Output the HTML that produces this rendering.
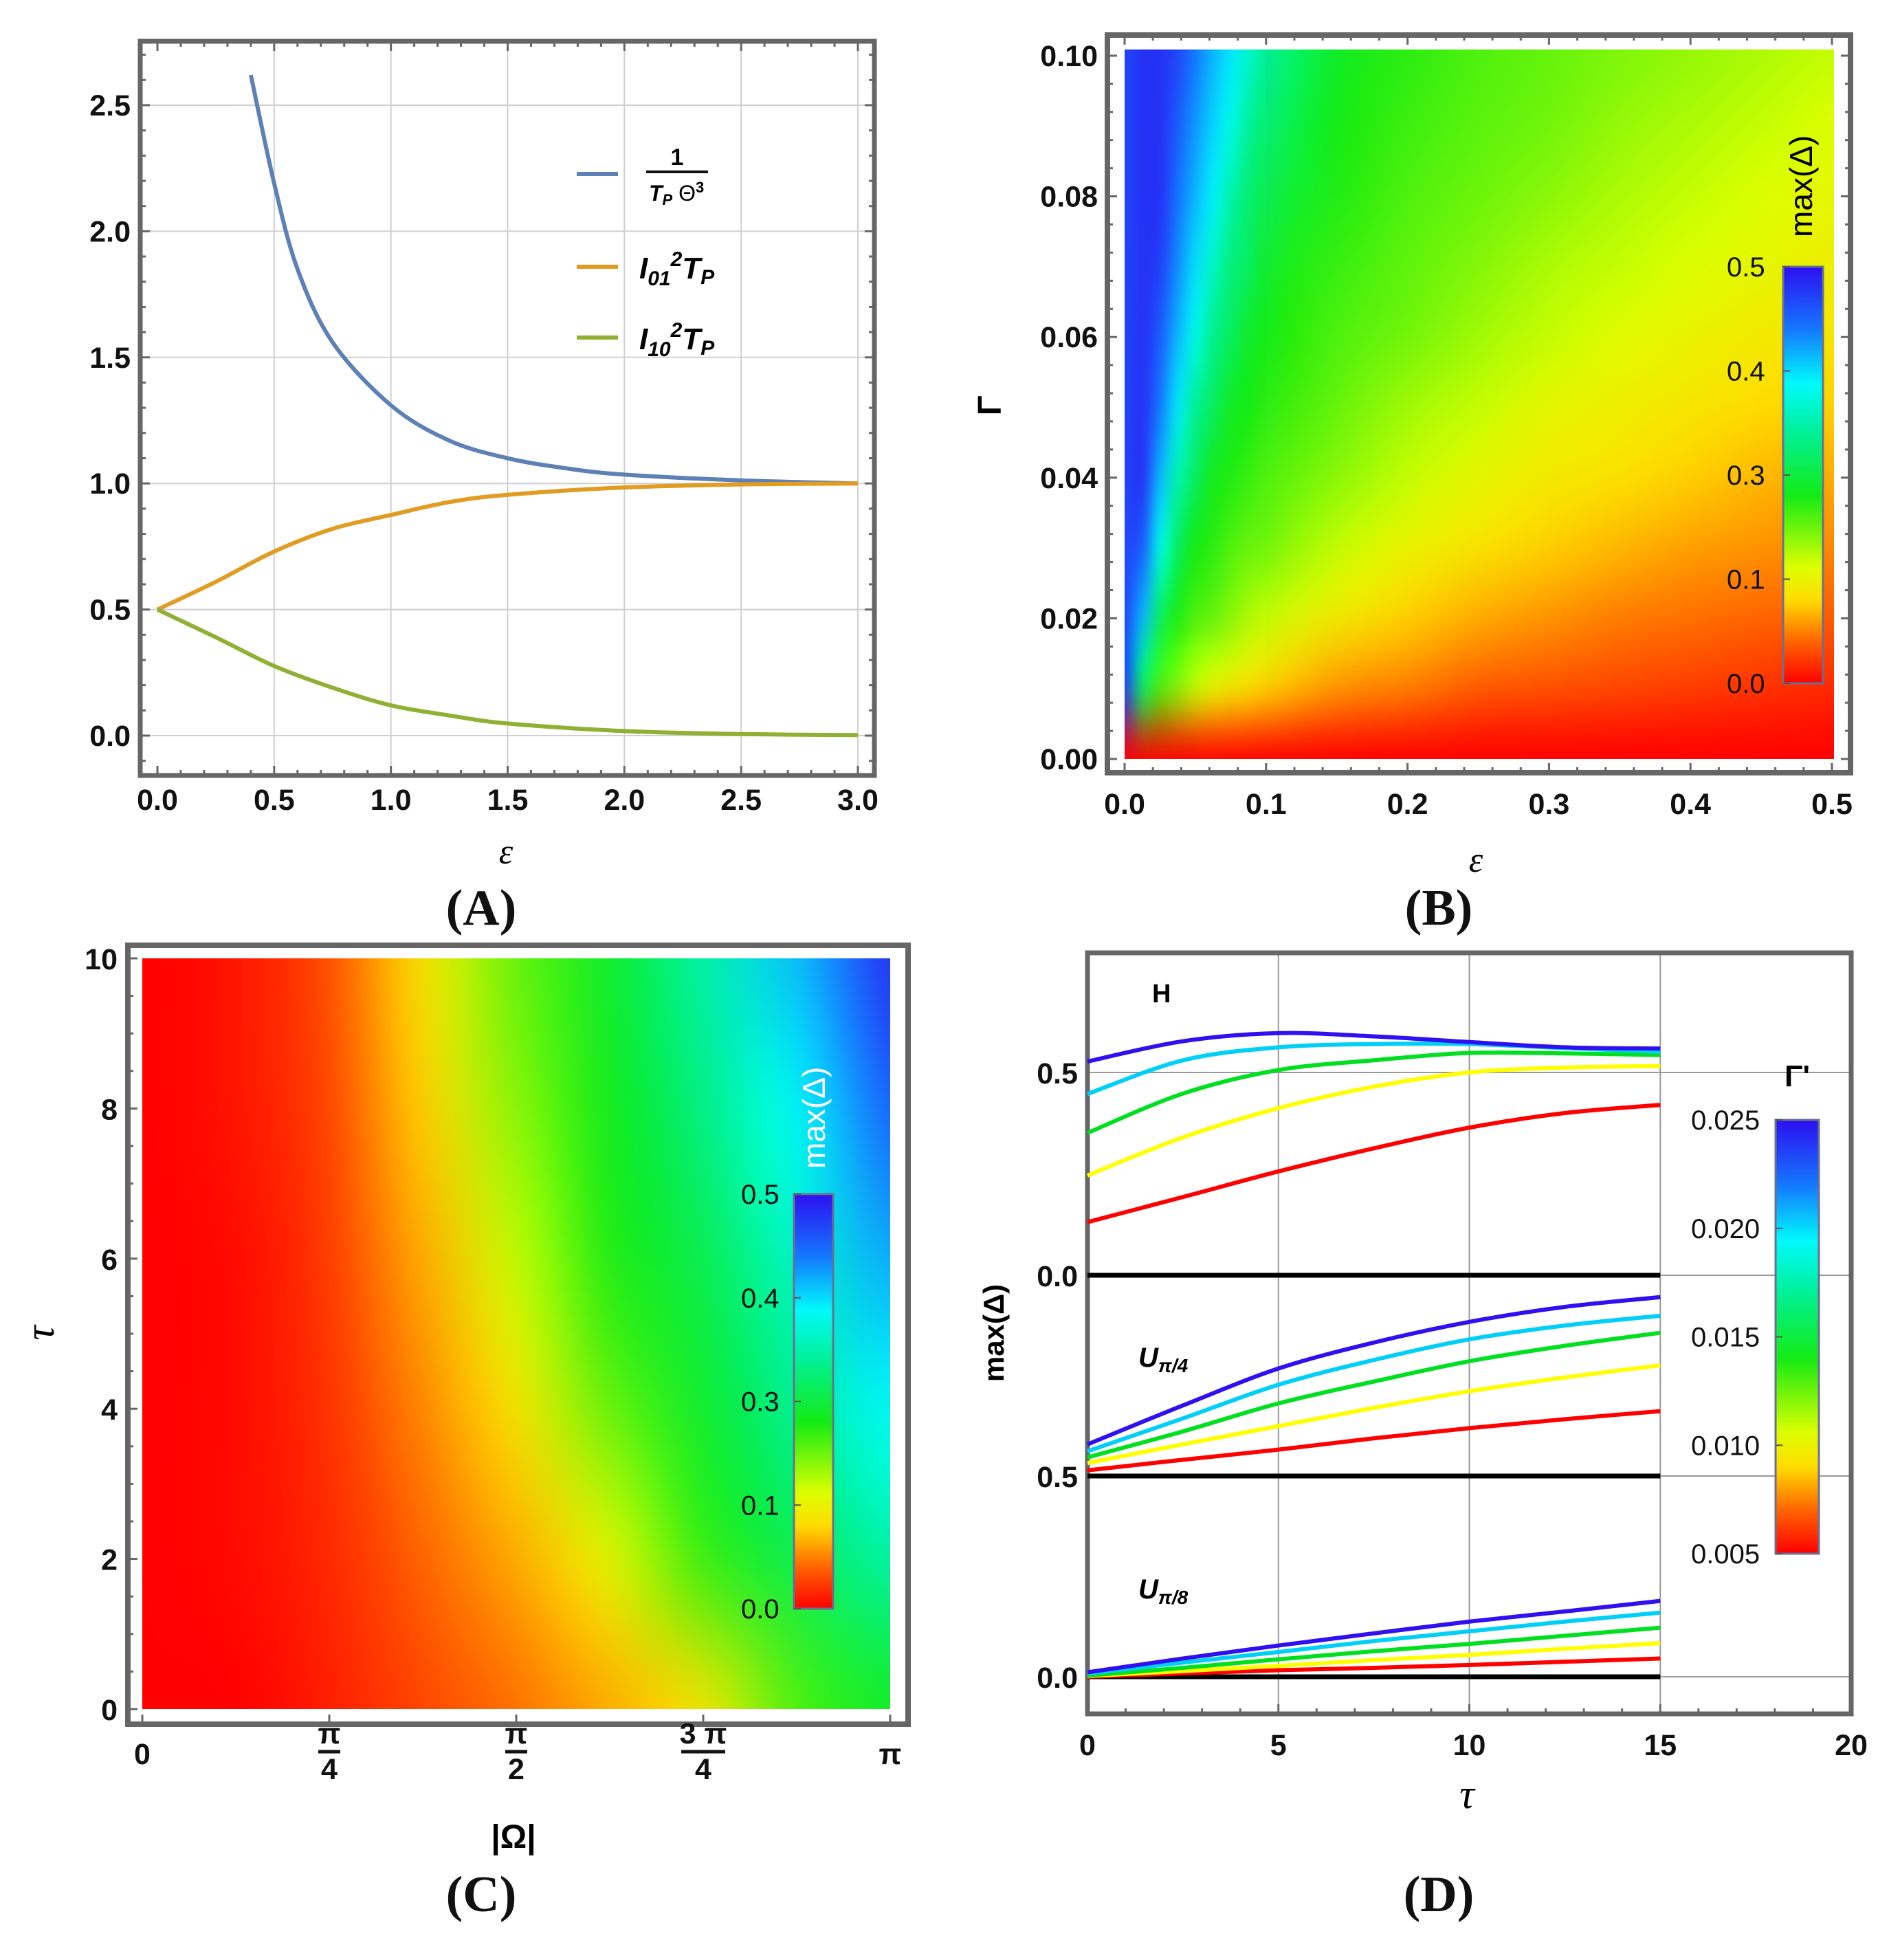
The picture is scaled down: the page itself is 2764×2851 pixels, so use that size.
<!DOCTYPE html>
<html><head><meta charset="utf-8">
<style>
html,body{margin:0;padding:0;background:#fff;}
body{width:2764px;height:2851px;position:relative;overflow:hidden;font-family:"Liberation Sans",sans-serif;}
svg{position:absolute;left:0;top:0;}
canvas{position:absolute;}
.tk{font:bold 43px "Liberation Sans",sans-serif;fill:#111;}
.cb{font:40px "Liberation Sans",sans-serif;fill:#111;}
.pl{font:bold 74px "Liberation Serif",serif;fill:#111;}
</style></head>
<body>
<canvas id="hmB" style="left:1636px;top:72px;" width="1032" height="1032"></canvas>
<canvas id="hmB2" style="left:1636px;top:72px;" width="206" height="1032"></canvas>
<canvas id="hmC" style="left:207px;top:1394px;" width="1088" height="1092"></canvas>
<svg id="svg" width="2764" height="2851" viewBox="0 0 2764 2851" xmlns="http://www.w3.org/2000/svg">
<defs>
<linearGradient id="cmap" x1="0" y1="1" x2="0" y2="0">
<stop offset="0" stop-color="rgb(255,0,0)"/><stop offset="0.1" stop-color="rgb(255,100,0)"/>
<stop offset="0.2" stop-color="rgb(255,220,0)"/><stop offset="0.28" stop-color="rgb(220,255,0)"/>
<stop offset="0.45" stop-color="rgb(20,235,20)"/><stop offset="0.6" stop-color="rgb(0,240,150)"/>
<stop offset="0.72" stop-color="rgb(0,250,250)"/><stop offset="0.85" stop-color="rgb(20,120,255)"/>
<stop offset="1" stop-color="rgb(45,15,240)"/>
</linearGradient>
</defs>
<g id="gA"></g>
<g id="gB"></g>
<g id="gC"></g>
<g id="gD"></g>
</svg>
<script>
// ---------- Panel A data ----------
const aBlueX=[0.4,0.5,0.6,0.75,1,1.25,1.5,1.75,2,2.5,3];
const aBlueY=[2.62,2.19,1.85,1.56,1.31,1.17,1.1,1.06,1.035,1.012,1.0];
const aOrX=[0,0.25,0.5,0.75,1,1.25,1.5,2,2.5,3];
const aOrY=[0.5,0.61,0.73,0.82,0.875,0.926,0.955,0.984,0.996,1.0];
const aGrX=[0,0.25,0.5,0.75,1,1.25,1.5,2,2.5,3];
const aGrY=[0.5,0.39,0.276,0.19,0.12,0.08,0.048,0.018,0.006,0.002];
const aXTicks=["0.0","0.5","1.0","1.5","2.0","2.5","3.0"];
const aYTicks=["0.0","0.5","1.0","1.5","2.0","2.5"];
// ---------- Panel B data (colour fraction of max(Δ)/0.5) ----------
const bEps=[0,0.05,0.1,0.15,0.2,0.25,0.3,0.35,0.4,0.45,0.5];
const bGam=[0,0.01,0.02,0.03,0.04,0.05,0.06,0.07,0.08,0.09,0.1];
const bRows=[ // row per Γ, column per ε
[0,0,0,0,0,0,0,0,0,0,0],
[.92,.3,.19,.14,.12,.09,.08,.07,.06,.05,.04],
[.92,.40,.3,.23,.19,.16,.14,.12,.11,.10,.09],
[.92,.45,.37,.3,.25,.215,.19,.17,.15,.14,.13],
[.92,.52,.40,.35,.3,.26,.23,.21,.19,.17,.16],
[.92,.6,.43,.38,.33,.3,.26,.24,.22,.2,.19],
[.92,.70,.45,.40,.37,.33,.3,.27,.25,.23,.22],
[.92,.75,.48,.42,.385,.355,.32,.3,.28,.26,.24],
[.92,.79,.52,.44,.40,.375,.35,.32,.3,.28,.26],
[.92,.82,.56,.45,.415,.39,.37,.34,.32,.3,.28],
[.92,.85,.6,.47,.43,.40,.38,.36,.34,.32,.3]];
// finer detail for ε in [0,0.1]
const bEpsFine=[0,0.0125,0.025,0.0375,0.05,0.0625,0.075,0.0875,0.1];
const bRowsFine=[
[0,0,0,0,0,0,0,0,0],
[.92,.54,.40,.35,.30,.26,.23,.21,.19],
[.92,.79,.54,.44,.40,.38,.35,.32,.30],
[.92,.89,.70,.54,.45,.43,.40,.38,.37],
[.92,.95,.79,.63,.54,.46,.44,.42,.40],
[.92,.95,.85,.74,.6,.54,.47,.45,.43],
[.92,.95,.89,.79,.70,.59,.54,.48,.45],
[.92,.95,.93,.83,.75,.66,.57,.54,.48],
[.92,.95,.95,.86,.79,.73,.63,.56,.52],
[.92,.95,.95,.89,.82,.76,.70,.61,.56],
[.92,.95,.95,.92,.85,.79,.74,.67,.6]];
const bXTicks=["0.0","0.1","0.2","0.3","0.4","0.5"];
const bYTicks=["0.00","0.02","0.04","0.06","0.08","0.10"];
const cbTicks=["0.0","0.1","0.3","0.4","0.5"];
// ---------- Panel C data ----------
const cOmegaFrac=[0,0.125,0.25,0.375,0.5,0.625,0.75,0.875,1];
const cTau=[0,2,4,6,8,10];
const cRows=[
[0,0,.03,.07,.11,.16,.22,.40,.47],
[0,.01,.04,.10,.16,.26,.42,.52,.62],
[0,.01,.05,.13,.22,.38,.48,.6,.72],
[0,.01,.06,.16,.30,.44,.52,.66,.80],
[0,.02,.07,.19,.35,.46,.58,.72,.88],
[0,.02,.08,.22,.38,.48,.62,.78,.95]];
const cYTicks=["0","2","4","6","8","10"];
// ---------- Panel D data ----------
const dTau=[0,2.5,5,7.5,10,12.5,15];
const dHBlue=[.527,.577,.597,.589,.575,.562,.559];
const dHCyan=[.447,.53,.562,.57,.57,.56,.551];
const dHGreen=[.351,.448,.506,.53,.548,.547,.543];
const dHYellow=[.246,.34,.412,.465,.5,.512,.516];
const dHRed=[.131,.193,.256,.313,.364,.400,.42];
const dU4Blue=[.078,.174,.265,.329,.38,.417,.441];
const dU4Cyan=[.061,.142,.225,.286,.337,.371,.395];
const dU4Green=[.046,.11,.179,.233,.283,.321,.353];
const dU4Yellow=[.032,.078,.123,.168,.209,.243,.273];
const dU4Red=[.014,.04,.065,.093,.118,.14,.16];
const dU8Blue=[.011,.045,.077,.107,.136,.161,.187];
const dU8Cyan=[.008,.035,.061,.088,.112,.136,.158];
const dU8Green=[.003,.022,.043,.063,.081,.101,.121];
const dU8Yellow=[.002,.014,.027,.041,.054,.069,.083];
const dU8Red=[0,.008,.016,.022,.029,.037,.045];
const dXTicks=["0","5","10","15","20"];
const dCbTicks=["0.005","0.010","0.015","0.020","0.025"];

const NS="http://www.w3.org/2000/svg";
function mk(parent,tag,attrs,text){const e=document.createElementNS(NS,tag);for(const k in attrs)e.setAttribute(k,attrs[k]);if(text!==undefined)e.textContent=text;parent.appendChild(e);return e;}
function smooth(pts){let d="M"+pts[0][0]+","+pts[0][1];for(let i=0;i<pts.length-1;i++){const p0=pts[Math.max(0,i-1)],p1=pts[i],p2=pts[i+1],p3=pts[Math.min(pts.length-1,i+2)];
const c1=[p1[0]+(p2[0]-p0[0])/6,p1[1]+(p2[1]-p0[1])/6],c2=[p2[0]-(p3[0]-p1[0])/6,p2[1]-(p3[1]-p1[1])/6];d+=" C"+c1+" "+c2+" "+p2;}return d;}
function cmap(t){const st=[[0,255,0,0],[.1,255,100,0],[.2,255,220,0],[.28,220,255,0],[.45,20,235,20],[.6,0,240,150],[.72,0,250,250],[.85,20,120,255],[1,45,15,240]];
t=Math.max(0,Math.min(1,t));for(let i=0;i<st.length-1;i++){if(t<=st[i+1][0]){const f=(t-st[i][0])/(st[i+1][0]-st[i][0]);return [0,1,2].map(k=>Math.round(st[i][k+1]+f*(st[i+1][k+1]-st[i][k+1])));}}return [45,15,240];}
function heat(id,rows){const cv=document.getElementById(id);const nr=rows.length,nc=rows[0].length;const s=document.createElement('canvas');s.width=nc;s.height=nr;const sx=s.getContext('2d');const im=sx.createImageData(nc,nr);
for(let r=0;r<nr;r++)for(let c=0;c<nc;c++){const col=cmap(rows[r][c]);const i=((nr-1-r)*nc+c)*4;im.data[i]=col[0];im.data[i+1]=col[1];im.data[i+2]=col[2];im.data[i+3]=255;}
sx.putImageData(im,0,0);const ctx=cv.getContext('2d');ctx.imageSmoothingEnabled=true;ctx.imageSmoothingQuality='high';ctx.drawImage(s,0.5,0.5,nc-1,nr-1,0,0,cv.width,cv.height);}
function colorbar(g,x,y,w,h,labels,lx,name){const r=mk(g,'rect',{x:x,y:y,width:w,height:h,fill:'url(#cmap)',stroke:'#6a7090','stroke-width':3});

labels.forEach((t,i)=>{const yy=y+h-i*h/(labels.length-1);mk(g,'line',{x1:x,x2:x+10,y1:yy,y2:yy,stroke:'#555','stroke-width':2});
const tx=mk(g,'text',{x:lx,y:yy+14,class:'cb'},t);});}

// ================= Panel A =================
(function(){const g=document.getElementById('gA');
const X0=204,X1=1272,Y0=60,Y1=1128;const xs=v=>229+v*(1248-229)/3;const ys=v=>1070-v*(1070-153)/2.5;
for(let v=0.5;v<=3.01;v+=0.5)mk(g,'line',{x1:xs(v),x2:xs(v),y1:Y0,y2:Y1,stroke:'#cfcfcf','stroke-width':2});
for(let v=0;v<=2.51;v+=0.5)mk(g,'line',{x1:X0,x2:X1,y1:ys(v),y2:ys(v),stroke:'#cfcfcf','stroke-width':2});
for(let v=0;v<=3.001;v+=0.1){const l=Math.abs(v*2-Math.round(v*2))<1e-6?14:8;mk(g,'line',{x1:xs(v),x2:xs(v),y1:Y1,y2:Y1-l,stroke:'#666','stroke-width':3});mk(g,'line',{x1:xs(v),x2:xs(v),y1:Y0,y2:Y0+l,stroke:'#666','stroke-width':3});}
for(let v=-0.1;v<=2.71;v+=0.1){const l=Math.abs(v*2-Math.round(v*2))<1e-6?14:8;mk(g,'line',{x1:X0,x2:X0+l,y1:ys(v),y2:ys(v),stroke:'#666','stroke-width':3});mk(g,'line',{x1:X1,x2:X1-l,y1:ys(v),y2:ys(v),stroke:'#666','stroke-width':3});}
const fr=mk(g,'rect',{x:X0,y:Y0,width:X1-X0,height:Y1-Y0,fill:'none',stroke:'#666','stroke-width':7});
aXTicks.forEach((t,i)=>{const e=mk(g,'text',{x:xs(i*0.5),y:1178,class:'tk','text-anchor':'middle'},t);});
aYTicks.forEach((t,i)=>{const e=mk(g,'text',{x:190,y:ys(i*0.5)+15,class:'tk','text-anchor':'end'},t);});
const series=[[aBlueX,aBlueY,'#5e81b5','curve-inverse-tp-theta3'],[aOrX,aOrY,'#e19c24','curve-i01-tp'],[aGrX,aGrY,'#8fb032','curve-i10-tp']];
series.forEach(s=>{const p=mk(g,'path',{d:smooth(s[0].map((x,i)=>[xs(x),ys(s[1][i])])),fill:'none',stroke:s[2],'stroke-width':6});});
const lg=mk(g,'g',{});
[[253,'#5e81b5'],[388,'#e19c24'],[491,'#8fb032']].forEach(a=>{const l=mk(lg,'line',{x1:839,x2:899,y1:a[0],y2:a[0],stroke:a[1],'stroke-width':6});});
mk(lg,'text',{x:985,y:240,'font-family':'Liberation Sans','font-weight':'bold','font-size':34,'text-anchor':'middle'},'1');
mk(lg,'line',{x1:940,x2:1030,y1:250,y2:250,stroke:'#111','stroke-width':4});
const f=mk(lg,'text',{x:944,y:292,'font-family':'Liberation Sans','font-weight':'bold','font-style':'italic','font-size':32});
f.innerHTML='T<tspan font-size="22" dy="6">P</tspan><tspan dy="-6" font-style="normal" font-weight="normal"> Θ</tspan><tspan font-size="22" dy="-12" font-style="normal">3</tspan>';
const t1=mk(lg,'text',{x:930,y:405,'font-family':'Liberation Sans','font-weight':'bold','font-style':'italic','font-size':44});
t1.innerHTML='I<tspan font-size="30" dy="10">01</tspan><tspan font-size="30" dy="-28">2</tspan><tspan dy="18">T</tspan><tspan font-size="30" dy="8">P</tspan>';
const t2=mk(lg,'text',{x:930,y:508,'font-family':'Liberation Sans','font-weight':'bold','font-style':'italic','font-size':44});
t2.innerHTML='I<tspan font-size="30" dy="10">10</tspan><tspan font-size="30" dy="-28">2</tspan><tspan dy="18">T</tspan><tspan font-size="30" dy="8">P</tspan>';
const xl=mk(g,'text',{x:736,y:1256,'font-family':'Liberation Serif','font-style':'italic','font-size':52,'text-anchor':'middle'},'ε');
const pl=mk(g,'text',{x:700,y:1345,class:'pl','text-anchor':'middle'},'(A)');
})();

// ================= Panel B =================
(function(){const g=document.getElementById('gB');heat('hmB',bRows);heat('hmB2',bRowsFine);
const X0=1611,X1=2692,Y0=51,Y1=1124;const xs=v=>1636+v*(2665-1636)/0.5;const ys=v=>1104-v*(1104-81)/0.1;
const fr=mk(g,'rect',{x:X0,y:Y0,width:X1-X0,height:Y1-Y0,fill:'none',stroke:'#666','stroke-width':8});
for(let i=0;i<=25;i++){const v=i*0.02;const l=i%5==0?14:8;mk(g,'line',{x1:xs(v),x2:xs(v),y1:Y1,y2:Y1-l,stroke:'#666','stroke-width':3});mk(g,'line',{x1:xs(v),x2:xs(v),y1:Y0,y2:Y0+l,stroke:'#666','stroke-width':3});}
for(let i=0;i<=25;i++){const v=i*0.004;const l=i%5==0?14:8;mk(g,'line',{x1:X0,x2:X0+l,y1:ys(v),y2:ys(v),stroke:'#666','stroke-width':3});mk(g,'line',{x1:X1,x2:X1-l,y1:ys(v),y2:ys(v),stroke:'#666','stroke-width':3});}
bXTicks.forEach((t,i)=>{const e=mk(g,'text',{x:xs(i*0.1),y:1184,class:'tk','text-anchor':'middle'},t);});
bYTicks.forEach((t,i)=>{const e=mk(g,'text',{x:1597,y:ys(i*0.02)+15,class:'tk','text-anchor':'end'},t);});
colorbar(g,2594,388,58,606,cbTicks,2512,'colorbar-b');
const ct=mk(g,'text',{x:0,y:0,'font-family':'Liberation Sans','font-size':46,transform:'translate(2636,345) rotate(-90)'},'max(Δ)');
const yl=mk(g,'text',{x:0,y:0,'font-family':'Liberation Sans','font-weight':'bold','font-size':48,'text-anchor':'middle',transform:'translate(1456,590) rotate(-90)'},'Γ');
const xl=mk(g,'text',{x:2147,y:1268,'font-family':'Liberation Serif','font-style':'italic','font-size':52,'text-anchor':'middle'},'ε');
const pl=mk(g,'text',{x:2093,y:1345,class:'pl','text-anchor':'middle'},'(B)');
})();

// ================= Panel C =================
(function(){const g=document.getElementById('gC');heat('hmC',cRows);
const X0=186,X1=1321,Y0=1375,Y1=2508;const xs=f=>207+f*(1295-207);const ys=v=>2486-v*(2486-1394)/10;
const fr=mk(g,'rect',{x:X0,y:Y0,width:X1-X0,height:Y1-Y0,fill:'none',stroke:'#666','stroke-width':8});
for(let i=0;i<=20;i++){const l=i%4==0?14:8;mk(g,'line',{x1:X0,x2:X0+l,y1:ys(i*0.5),y2:ys(i*0.5),stroke:'#666','stroke-width':3});}
for(let i=0;i<=4;i++){mk(g,'line',{x1:xs(i/4),x2:xs(i/4),y1:Y1,y2:Y1-14,stroke:'#666','stroke-width':3});}
cYTicks.forEach((t,i)=>{const e=mk(g,'text',{x:171,y:ys(i*2)+16,class:'tk','text-anchor':'end','font-size':46},t);});
const xt=[['0',null],['π','4'],['π','2'],['3 π','4'],['π',null]];
xt.forEach((t,i)=>{const x=xs(i/4);const gg=mk(g,'g',{});
if(t[1]===null){mk(gg,'text',{x:x,y:2566,class:'tk','text-anchor':'middle','font-size':48,'font-style':t[0]=='π'?'italic':'normal'},t[0]);}
else{mk(gg,'text',{x:x,y:2536,class:'tk','text-anchor':'middle','font-size':36},t[0]);mk(gg,'line',{x1:x-(t[0].length>1?32:16),x2:x+(t[0].length>1?32:16),y1:2548,y2:2548,stroke:'#111','stroke-width':5});mk(gg,'text',{x:x,y:2588,class:'tk','text-anchor':'middle','font-size':36},t[1]);}});
colorbar(g,1155,1737,57,603,cbTicks,1078,'colorbar-c');
const ct=mk(g,'text',{x:0,y:0,'font-family':'Liberation Sans','font-size':46,fill:'#fff',transform:'translate(1200,1700) rotate(-90)'},'max(Δ)');
const yl=mk(g,'text',{x:0,y:0,'font-family':'Liberation Serif','font-style':'italic','font-size':60,'text-anchor':'middle',transform:'translate(78,1939) rotate(-90)'},'τ');
const xl=mk(g,'text',{x:747,y:2688,'font-family':'Liberation Sans','font-weight':'bold','font-size':48,'text-anchor':'middle'},'|Ω|');
const pl=mk(g,'text',{x:700,y:2780,class:'pl','text-anchor':'middle'},'(C)');
})();

// ================= Panel D =================
(function(){const g=document.getElementById('gD');
const X0=1582,X1=2693,Y0=1386,Y1=2493;const xs=v=>X0+v*(X1-X0)/20;const unit=590;
const bases=[1855,2147,2439];const ys=(v,b)=>b-v*unit;
[5,10,15].forEach(v=>mk(g,'line',{x1:xs(v),x2:xs(v),y1:Y0,y2:Y1,stroke:'#999','stroke-width':2}));
[1560,1855,2147,2439].forEach(y=>mk(g,'line',{x1:X0,x2:X1,y1:y,y2:y,stroke:'#999','stroke-width':2}));
for(let i=0;i<=20;i++){const l=i%5==0?14:8;mk(g,'line',{x1:xs(i),x2:xs(i),y1:Y1,y2:Y1-l,stroke:'#666','stroke-width':3});}
const fr=mk(g,'rect',{x:X0,y:Y0,width:X1-X0,height:Y1-Y0,fill:'none',stroke:'#666','stroke-width':7});
bases.forEach(b=>{const l=mk(g,'line',{x1:X0,x2:xs(15),y1:b,y2:b,stroke:'#000','stroke-width':7});});
const cols=['#ff0000','#ffff00','#00e020','#00d0f8','#3010f0'];
const panels=[[[dHRed,dHYellow,dHGreen,dHCyan,dHBlue],bases[0],'h'],[[dU4Red,dU4Yellow,dU4Green,dU4Cyan,dU4Blue],bases[1],'u-pi4'],[[dU8Red,dU8Yellow,dU8Green,dU8Cyan,dU8Blue],bases[2],'u-pi8']];
panels.forEach(p=>p[0].forEach((arr,k)=>{const pa=mk(g,'path',{d:smooth(dTau.map((t,i)=>[xs(t),ys(arr[i],p[1])])),fill:'none',stroke:cols[k],'stroke-width':6});
}));
dXTicks.forEach((t,i)=>{const e=mk(g,'text',{x:xs(i*5),y:2553,class:'tk','text-anchor':'middle'},t);});
[['0.5',1560],['0.0',1855],['0.5',2147],['0.0',2439]].forEach(a=>{const e=mk(g,'text',{x:1568,y:a[1]+16,class:'tk','text-anchor':'end'},a[0]);});
const h=mk(g,'text',{x:1676,y:1458,'font-family':'Liberation Sans','font-weight':'bold','font-size':38},'H');
const u4=mk(g,'text',{x:1656,y:1988,'font-family':'Liberation Sans','font-weight':'bold','font-style':'italic','font-size':40});u4.innerHTML='U<tspan font-size="28" dy="8">π/4</tspan>';
const u8=mk(g,'text',{x:1656,y:2325,'font-family':'Liberation Sans','font-weight':'bold','font-style':'italic','font-size':40});u8.innerHTML='U<tspan font-size="28" dy="8">π/8</tspan>';
colorbar(g,2583,1629,63,631,dCbTicks,2460,'colorbar-d');
const ct=mk(g,'text',{x:2596,y:1580,'font-family':'Liberation Sans','font-weight':'bold','font-size':44},"Γ'");
const yl=mk(g,'text',{x:0,y:0,'font-family':'Liberation Sans','font-weight':'bold','font-size':42,'text-anchor':'middle',transform:'translate(1460,1939) rotate(-90)'},'max(Δ)');
const xl=mk(g,'text',{x:2134,y:2630,'font-family':'Liberation Serif','font-style':'italic','font-size':60,'text-anchor':'middle'},'τ');
const pl=mk(g,'text',{x:2093,y:2780,class:'pl','text-anchor':'middle'},'(D)');
})();
</script>
</body></html>
